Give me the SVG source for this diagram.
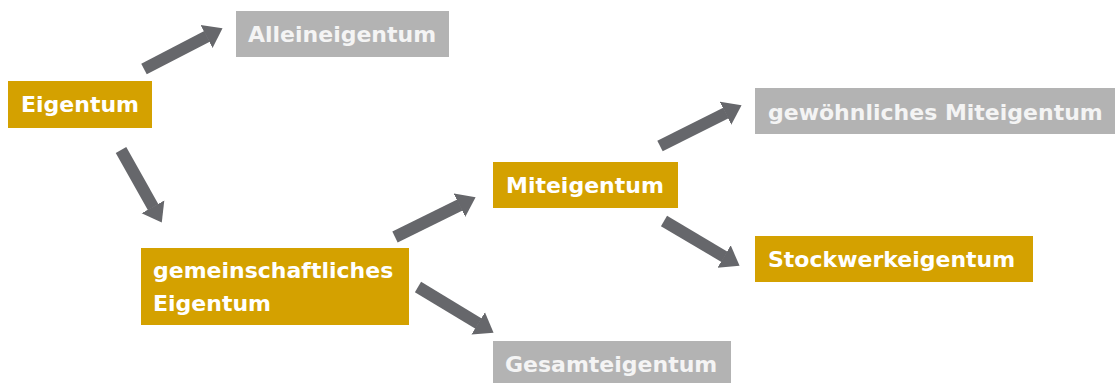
<svg xmlns="http://www.w3.org/2000/svg" width="1115" height="383" viewBox="0 0 1115 383">
  <style>
    .gold { fill: #D4A100; }
    .gray { fill: #B3B3B3; }
    .t { font-family: "DejaVu Sans", Verdana, sans-serif; font-weight: bold; font-size: 22px; fill: #FFFFFF; }
    .tg { fill: #F4F4F4; }
    .conn line { stroke: #66676B; stroke-width: 12; stroke-linecap: butt; marker-end: url(#head); }
  </style>
  <defs>
    <marker id="head" markerUnits="userSpaceOnUse" markerWidth="20" markerHeight="28" viewBox="0 -14 20 28" refX="0.5" refY="0" orient="auto">
      <path d="M0,-13 L18,0 L0,13 z" fill="#66676B"/>
    </marker>
  </defs>
  <rect width="1115" height="383" fill="#FFFFFF"/>
  <g id="connectors" class="conn">
    <line x1="144" y1="69" x2="207.0" y2="36.3"/>
    <line x1="121" y1="150" x2="153.2" y2="207.3"/>
    <line x1="395" y1="237" x2="459.9" y2="205.0"/>
    <line x1="418" y1="287" x2="478.6" y2="323.7"/>
    <line x1="660" y1="146" x2="725.9" y2="113.0"/>
    <line x1="664" y1="221" x2="724.5" y2="256.8"/>
  </g>
  <g id="eigentum">
    <rect class="gold" x="8" y="81" width="144" height="47"/>
    <text class="t" x="21" y="112">Eigentum</text>
  </g>
  <g id="alleineigentum">
    <rect class="gray" x="236" y="11" width="213" height="46"/>
    <text class="t tg" x="248" y="42">Alleineigentum</text>
  </g>
  <g id="gemeinschaftliches">
    <rect class="gold" x="141" y="248" width="268" height="77"/>
    <text class="t" x="153" y="278">gemeinschaftliches</text>
    <text class="t" x="153" y="311">Eigentum</text>
  </g>
  <g id="miteigentum">
    <rect class="gold" x="493" y="162" width="185" height="46"/>
    <text class="t" x="506" y="193">Miteigentum</text>
  </g>
  <g id="gewoehnliches">
    <rect class="gray" x="755" y="88" width="360" height="46"/>
    <text class="t tg" x="768" y="120">gewöhnliches Miteigentum</text>
  </g>
  <g id="stockwerkeigentum">
    <rect class="gold" x="755" y="236" width="278" height="46"/>
    <text class="t" x="768" y="267">Stockwerkeigentum</text>
  </g>
  <g id="gesamteigentum">
    <rect class="gray" x="493" y="341" width="238" height="46"/>
    <text class="t tg" x="505" y="372">Gesamteigentum</text>
  </g>
</svg>
